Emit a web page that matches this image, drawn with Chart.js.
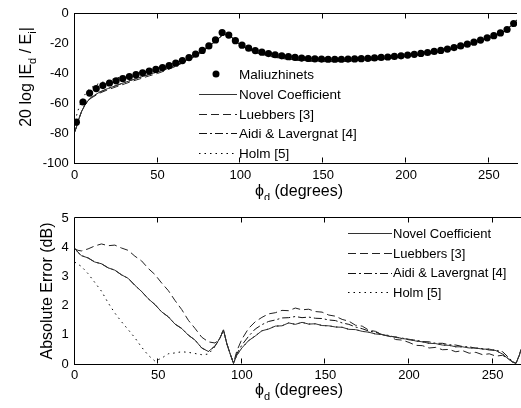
<!DOCTYPE html>
<html><head><meta charset="utf-8">
<script src="https://cdn.jsdelivr.net/npm/chart.js@4.4.1/dist/chart.umd.min.js"></script>
<style>
html,body{margin:0;padding:0;background:#fff;overflow:hidden;width:521px;height:408px}
.box{position:absolute;left:0;width:521px}
</style></head><body>
<div class="box" style="top:0;height:200px"><canvas id="c1"></canvas></div>
<div class="box" style="top:200px;height:208px"><canvas id="c2"></canvas></div>
<script>
// ---------- data ----------
const xTicks = [0, 50, 100, 150, 200, 250];
const topYTicks = [-100, -80, -60, -40, -20, 0];
const botYTicks = [0, 1, 2, 3, 4, 5];

const topLegend = ['Maliuzhinets', 'Novel Coefficient', 'Luebbers [3]', 'Aidi & Lavergnat [4]', 'Holm [5]'];
const botLegend = ['Novel Coefficient', 'Luebbers [3]', 'Aidi & Lavergnat [4]', 'Holm [5]'];

// Maliuzhinets reference (markers)
const maliuzPhi = [1,5,9,13,17,21,25,29,33,37,41,45,49,53,57,61,65,69,73,77,81,85,89,93,97,101,105,109,113,117,121,125,129,133,137,141,145,149,153,157,161,165,169,173,177,181,185,189,193,197,201,205,209,213,217,221,225,229,233,237,241,245,249,253,257,261,265];
const maliuzDb = [-72.5,-59,-53,-50,-48,-46.3,-44.8,-43.3,-42,-40.7,-39.5,-38.3,-37.2,-36,-34.6,-33,-31.3,-29.3,-27,-24.5,-21.5,-17.5,-12.5,-14.2,-18,-21,-23,-24.6,-25.7,-26.6,-27.4,-28.1,-28.7,-29.2,-29.6,-29.9,-30.1,-30.3,-30.4,-30.4,-30.4,-30.3,-30.2,-30,-29.8,-29.5,-29.2,-28.9,-28.5,-28.1,-27.6,-27.1,-26.5,-25.9,-25.2,-24.5,-23.6,-22.6,-21.5,-20.3,-19,-17.6,-16.1,-14.6,-12.8,-10.5,-6.5];

// approximations (top plot, lines)
const topPhi = [0,1,2,4,6,8,10,15,20,25,30,35,40,45,50,55,60,65,70,75,80,85,90,95,100,110,120,130,140,150,160,170,180,190,200,210,220,230,240,250,255,260,265,267];
const novelDb = [-79,-75.9,-71.9,-65.7,-61.2,-58.1,-55.9,-52.4,-50,-48,-46,-44.1,-42.3,-40.5,-38.9,-37,-34.8,-32.5,-29.7,-26.4,-22.7,-18.2,-13.5,-16,-20.9,-26,-28.5,-30.2,-31.2,-31.6,-31.7,-31.3,-30.6,-29.7,-28.5,-27,-25.3,-22.9,-19.8,-16.2,-14.1,-11.3,-6.6,-4];
const luebbersDb = [-78.95,-75.9,-71.9,-65.9,-61.4,-58.5,-56.3,-53.1,-50.8,-48.85,-46.95,-45,-43.3,-41.5,-39.9,-37.9,-35.6,-33,-30.2,-26.8,-23.05,-18.2,-13.5,-16,-21.15,-26.4,-29,-30.7,-31.7,-32,-32,-31.4,-30.7,-29.75,-28.45,-26.95,-25.1,-22.75,-19.65,-16,-13.95,-11.25,-6.6,-4];
const aidiDb = [-79,-75.9,-71.9,-65.7,-61.2,-58.1,-55.9,-52.4,-50,-48,-46,-44.1,-42.3,-40.5,-38.9,-37,-34.8,-32.5,-29.7,-26.4,-22.7,-18.2,-13.5,-16,-20.95,-26.2,-28.7,-30.4,-31.4,-31.8,-31.8,-31.35,-30.7,-29.75,-28.55,-27.05,-25.3,-22.9,-19.85,-16.2,-14.1,-11.3,-6.6,-4];
const holmDb = [-71.5,-68.5,-64.6,-58.7,-54.3,-51.4,-49.35,-46.4,-44.6,-43.1,-41.7,-40.3,-39.2,-38.1,-36.9,-35,-33,-30.9,-28.4,-25.5,-22,-18.1,-13.5,-16,-20.9,-26,-28.5,-30.2,-31.2,-31.6,-31.7,-31.3,-30.6,-29.7,-28.5,-27,-25.3,-22.9,-19.8,-16.2,-14.1,-11.3,-6.6,-4];

// absolute errors (bottom plot)
const errPhi = [0,2,4,8,12,16,20,24,28,32,36,40,44,48,52,56,60,64,68,72,76,80,84,87,89,91,93,95,97,100,104,108,112,116,120,124,128,132,136,140,144,148,152,156,160,164,168,172,176,180,184,188,192,196,200,204,208,212,216,220,224,228,232,236,240,244,248,252,256,260,262,264,266,267];
const novelErr = [3.97,3.83,3.72,3.64,3.5,3.44,3.3,3.22,3.06,2.94,2.7,2.49,2.24,2.04,1.79,1.62,1.37,1.22,0.99,0.82,0.55,0.43,0.62,0.9,1.17,0.7,0.35,0.02,0.3,0.55,0.8,0.96,1.14,1.2,1.3,1.31,1.41,1.36,1.43,1.37,1.38,1.32,1.31,1.27,1.26,1.19,1.18,1.12,1.09,1.03,1.01,0.95,0.93,0.87,0.85,0.79,0.76,0.71,0.7,0.65,0.64,0.59,0.59,0.55,0.55,0.51,0.51,0.46,0.34,0.15,0.06,0.02,0.3,0.5];
const luebbersErr = [3.95,3.9,3.88,3.95,4.05,4.12,4.06,4.08,3.98,3.9,3.7,3.54,3.28,3.07,2.78,2.52,2.18,1.87,1.5,1.22,0.92,0.76,0.72,0.9,1.17,0.7,0.35,0.03,0.45,0.85,1.22,1.45,1.6,1.72,1.76,1.84,1.83,1.92,1.86,1.88,1.8,1.78,1.68,1.64,1.53,1.47,1.33,1.3,1.16,1.12,1.0,0.96,0.84,0.82,0.74,0.64,0.63,0.55,0.57,0.49,0.5,0.42,0.46,0.37,0.4,0.32,0.35,0.27,0.3,0.15,0.08,0.03,0.3,0.5];
const aidiErr = [3.97,3.83,3.72,3.64,3.5,3.44,3.3,3.22,3.06,2.94,2.7,2.49,2.24,2.04,1.79,1.62,1.37,1.22,0.99,0.82,0.55,0.43,0.62,0.9,1.17,0.7,0.35,0.02,0.35,0.65,0.95,1.2,1.35,1.46,1.51,1.58,1.59,1.63,1.59,1.61,1.57,1.56,1.51,1.49,1.41,1.36,1.27,1.21,1.13,1.09,1.01,0.98,0.91,0.89,0.83,0.82,0.77,0.76,0.71,0.71,0.66,0.65,0.6,0.59,0.54,0.53,0.48,0.47,0.42,0.2,0.08,0.02,0.3,0.5];
const holmErr = [3.5,3.42,3.35,3.1,2.8,2.5,2.1,1.75,1.45,1.18,0.9,0.58,0.3,0.1,0.2,0.35,0.38,0.42,0.4,0.36,0.32,0.34,0.6,0.9,1.17,0.7,0.35,0.02,0.3,0.55,0.8,0.96,1.14,1.2,1.3,1.31,1.41,1.36,1.43,1.37,1.38,1.32,1.31,1.27,1.26,1.19,1.18,1.12,1.09,1.03,1.01,0.95,0.93,0.87,0.85,0.79,0.76,0.71,0.7,0.65,0.64,0.59,0.59,0.55,0.55,0.51,0.51,0.46,0.34,0.15,0.06,0.02,0.3,0.5];

// ---------- helpers ----------
const FAM = '"Liberation Sans", Arial, Helvetica, sans-serif';
const pts = (xs, ys) => xs.map((x, i) => ({ x: x, y: ys[i] }));
const DASH = { solid: [], dashed: [8, 4], dashdot: [8, 3, 2, 3], dotted: [1.5, 4] };

function richText(ctx, parts, x, y, rotate) {
  ctx.save();
  ctx.translate(x, y);
  if (rotate) ctx.rotate(-Math.PI / 2);
  let total = 0;
  parts.forEach(p => { ctx.font = p.size + 'px ' + FAM; total += ctx.measureText(p.t).width; });
  let cx = -total / 2;
  ctx.fillStyle = '#000';
  ctx.textAlign = 'left';
  ctx.textBaseline = 'alphabetic';
  parts.forEach(p => {
    ctx.font = p.size + 'px ' + FAM;
    ctx.fillText(p.t, cx, p.dy || 0);
    cx += ctx.measureText(p.t).width;
  });
  ctx.restore();
}

const decor = {
  id: 'decor',
  afterDraw(chart, args, o) {
    const ctx = chart.ctx, a = chart.chartArea, xs = chart.scales.x;
    ctx.save();
    ctx.strokeStyle = '#000';
    ctx.lineWidth = 1;
    ctx.setLineDash([]);
    const top = Math.round(a.top) - 0.5, bot = Math.round(a.bottom) - 0.5;
    ctx.beginPath();
    ctx.moveTo(Math.round(a.left) - 0.5, top);
    ctx.lineTo(a.right, top);
    ctx.stroke();
    xTicks.forEach(v => {
      const px = Math.round(xs.getPixelForValue(v)) - 0.5;
      ctx.beginPath();
      ctx.moveTo(px, top); ctx.lineTo(px, top + 5);
      ctx.moveTo(px, bot); ctx.lineTo(px, bot - 5);
      ctx.stroke();
    });
    const L = o.legend;
    L.items.forEach((it, i) => {
      const y = L.rows[i];
      ctx.strokeStyle = it.color; ctx.fillStyle = '#000';
      if (it.kind === 'point') {
        ctx.beginPath();
        ctx.arc(L.mark, y, 3.5, 0, Math.PI * 2);
        ctx.fill();
      } else {
        ctx.setLineDash(DASH[it.dash]);
        ctx.beginPath();
        ctx.moveTo(L.x0, Math.round(y) + 0.5);
        ctx.lineTo(L.x1, Math.round(y) + 0.5);
        ctx.stroke();
        ctx.setLineDash([]);
      }
      ctx.font = L.size + 'px ' + FAM;
      ctx.textAlign = 'left';
      ctx.textBaseline = 'middle';
      ctx.fillText(it.label, L.tx, y + 1);
    });
    ctx.restore();
    richText(ctx, o.yTitle.parts, o.yTitle.x, o.yTitle.y, true);
    richText(ctx, o.xTitle.parts, o.xTitle.x, o.xTitle.y, false);
  }
};

function lineSet(label, data, color, dash) {
  return { label, data, borderColor: color, borderWidth: 1, borderDash: DASH[dash],
           pointRadius: 0, fill: false, tension: 0, showLine: true };
}

function axes(ymin, ymax, yt, xh, yw) {
  const tf = { family: FAM, size: 13 };
  return {
    x: { type: 'linear', min: 0, max: 267,
         afterBuildTicks: s => { s.ticks = xTicks.map(v => ({ value: v })); },
         afterFit: s => { s.height = xh; },
         grid: { display: false, drawTicks: false },
         border: { display: true, color: '#000', width: 1 },
         ticks: { color: '#000', font: tf, padding: 4, maxRotation: 0, autoSkip: false } },
    y: { type: 'linear', min: ymin, max: ymax,
         afterBuildTicks: s => { s.ticks = yt.map(v => ({ value: v })); },
         afterFit: s => { s.width = yw; },
         grid: { display: false, drawTicks: false },
         border: { display: true, color: '#000', width: 1 },
         ticks: { color: '#000', font: tf, padding: 6, autoSkip: false } }
  };
}

const xTitleParts = [{ t: '\u03D5', size: 16 }, { t: 'd', size: 11, dy: 5 }, { t: ' (degrees)', size: 16 }];

new Chart(document.getElementById('c1'), {
  type: 'scatter',
  data: { datasets: [
    { label: topLegend[0], data: pts(maliuzPhi, maliuzDb), showLine: false, pointRadius: 3.6,
      pointBackgroundColor: '#000', pointBorderColor: '#000', pointBorderWidth: 0 },
    lineSet(topLegend[1], pts(topPhi, novelDb), '#333', 'solid'),
    lineSet(topLegend[2], pts(topPhi, luebbersDb), '#222', 'dashed'),
    lineSet(topLegend[3], pts(topPhi, aidiDb), '#111', 'dashdot'),
    lineSet(topLegend[4], pts(topPhi, holmDb), '#000', 'dotted')
  ]},
  options: {
    responsive: true, maintainAspectRatio: false, animation: false,
    layout: { padding: { top: 11, right: 0, left: 0, bottom: 0 } },
    scales: axes(-100, 0, topYTicks, 36.7, 74.7),
    plugins: {
      legend: { display: false }, tooltip: { enabled: false },
      decor: {
        legend: { rows: [74, 94, 114, 133, 153], x0: 199, x1: 237, tx: 239, mark: 216, size: 13.5,
          items: [
            { label: topLegend[0], kind: 'point' },
            { label: topLegend[1], kind: 'line', dash: 'solid', color: '#333' },
            { label: topLegend[2], kind: 'line', dash: 'dashed', color: '#222' },
            { label: topLegend[3], kind: 'line', dash: 'dashdot', color: '#111' },
            { label: topLegend[4], kind: 'line', dash: 'dotted', color: '#000' }
          ] },
        yTitle: { x: 31, y: 77, parts: [{ t: '20 log |E', size: 16 }, { t: 'd', size: 11, dy: 5 }, { t: ' / E', size: 16 }, { t: 'i', size: 11, dy: 5 }, { t: '|', size: 16 }] },
        xTitle: { x: 299, y: 196, parts: xTitleParts }
      }
    }
  },
  plugins: [decor]
});

new Chart(document.getElementById('c2'), {
  type: 'scatter',
  data: { datasets: [
    lineSet(botLegend[0], pts(errPhi, novelErr), '#333', 'solid'),
    lineSet(botLegend[1], pts(errPhi, luebbersErr), '#222', 'dashed'),
    lineSet(botLegend[2], pts(errPhi, aidiErr), '#111', 'dashdot'),
    lineSet(botLegend[3], pts(errPhi, holmErr), '#000', 'dotted')
  ]},
  options: {
    responsive: true, maintainAspectRatio: false, animation: false,
    layout: { padding: { top: 18.3, right: 0, left: 0, bottom: 0 } },
    scales: axes(0, 5, botYTicks, 44, 74.7),
    plugins: {
      legend: { display: false }, tooltip: { enabled: false },
      decor: {
        legend: { rows: [33.3, 53.3, 72.7, 92.3], x0: 348, x1: 392, tx: 393, mark: 370, size: 13,
          items: [
            { label: botLegend[0], kind: 'line', dash: 'solid', color: '#333' },
            { label: botLegend[1], kind: 'line', dash: 'dashed', color: '#222' },
            { label: botLegend[2], kind: 'line', dash: 'dashdot', color: '#111' },
            { label: botLegend[3], kind: 'line', dash: 'dotted', color: '#000' }
          ] },
        yTitle: { x: 52, y: 91, parts: [{ t: 'Absolute Error (dB)', size: 16 }] },
        xTitle: { x: 299, y: 195, parts: xTitleParts }
      }
    }
  },
  plugins: [decor]
});
</script>
</body></html>
